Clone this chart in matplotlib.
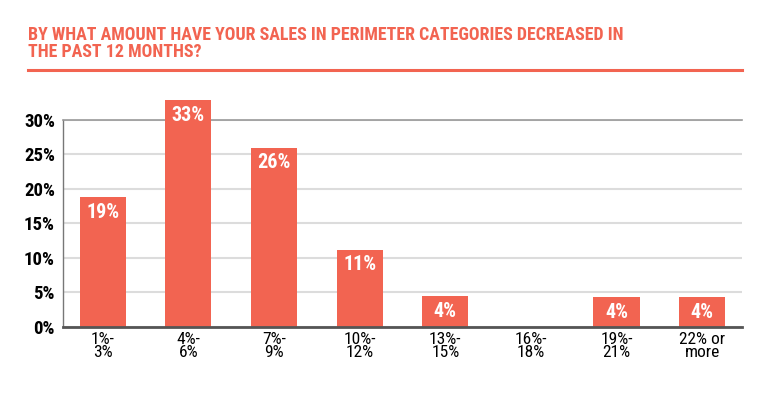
import matplotlib
matplotlib.use("Agg")
import matplotlib.pyplot as plt

plt.rcParams['font.family'] = ['Roboto Condensed', 'IBM Plex Sans Condensed', 'DejaVu Sans']

categorias = ["1%-\n3%", "4%-\n6%", "7%-\n9%", "10%-\n12%", "13%-\n15%", "16%-\n18%", "19%-\n21%", "22% or\nmore"]
valores = [18.8, 32.9, 26.0, 11.2, 4.4, 0, 4.3, 4.3]
etiquetas = ["19%", "33%", "26%", "11%", "4%", "", "4%", "4%"]
yticks = [0, 5, 10, 15, 20, 25, 30]

coral = "#F26451"

fig = plt.figure(figsize=(7.7, 4), dpi=100)
ax = fig.add_axes([0.0822, 0.1833, 0.881, 0.5167])

x = range(len(categorias))
bars = ax.bar(x, valores, width=0.54, color=coral, zorder=3, clip_on=False)

for b, txt in zip(bars, etiquetas):
    if txt:
        ax.annotate(txt, (b.get_x() + b.get_width() / 2, b.get_height()),
                    xytext=(0, -4), textcoords="offset points",
                    ha="center", va="top", color="white",
                    fontsize=14.5, fontweight="bold", zorder=4,
                    annotation_clip=False)

ax.set_xlim(-0.46, 7.46)
ax.set_ylim(0, 30)
ax.set_yticks(yticks)
ax.set_yticklabels([f"{t}%" for t in yticks], fontsize=13.5, fontweight="bold")
ax.set_xticks(list(x))
ax.set_xticklabels(categorias, fontsize=12.5, linespacing=0.85)
ax.tick_params(axis="both", length=0)
ax.tick_params(axis="y", pad=6)
ax.tick_params(axis="x", pad=4)

ax.grid(axis="y", color="#dcdcdc", linewidth=1.5, zorder=0)
ax.set_axisbelow(True)
ax.spines["top"].set_color("#999999")
ax.spines["top"].set_linewidth(1.2)
ax.spines["right"].set_visible(False)
ax.spines["left"].set_color("#777777")
ax.spines["left"].set_linewidth(1.0)
ax.spines["bottom"].set_color("#555555")
ax.spines["bottom"].set_linewidth(2)
ax.spines["bottom"].set_zorder(5)

fig.text(28 / 770, 1 - 26 / 400,
         "BY WHAT AMOUNT HAVE YOUR SALES IN PERIMETER CATEGORIES DECREASED IN\nTHE PAST 12 MONTHS?",
         color=coral, fontsize=12.9, fontweight="bold", ha="left", va="top", linespacing=0.95)
fig.add_artist(plt.Line2D([28 / 770, 742 / 770], [1 - 70 / 400, 1 - 70 / 400],
                          color=coral, linewidth=2.2))

fig.savefig("out.png", dpi=100)
